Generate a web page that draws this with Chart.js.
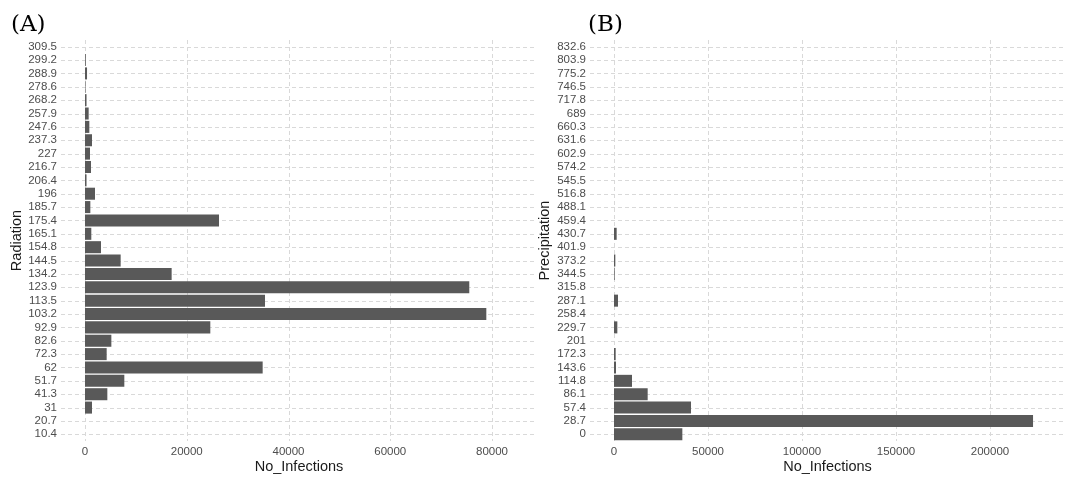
<!DOCTYPE html>
<html>
<head>
<meta charset="utf-8">
<script src="https://cdn.jsdelivr.net/npm/chart.js@4.4.1/dist/chart.umd.min.js"></script>
<style>
  html, body { margin: 0; padding: 0; background: #ffffff; }
  body { width: 1067px; height: 478px; position: relative; overflow: hidden; }
  .panel { position: absolute; top: 0; height: 478px; }
  .tag { position: absolute; top: 12px; font-family: "DejaVu Serif", serif; font-size: 23px; line-height: 1; color: #000; }
</style>
</head>
<body>
<div class="panel" style="left:0;width:540px;"><canvas id="chartA"></canvas></div>
<div class="panel" style="left:528px;width:539px;"><canvas id="chartB"></canvas></div>
<div class="tag" style="left:11px;">(A)</div>
<div class="tag" style="left:588px;">(B)</div>
<script>
// ---- data ----
const radiationCategories = ["10.4","20.7","31","41.3","51.7","62","72.3","82.6","92.9","103.2","113.5","123.9","134.2","144.5","154.8","165.1","175.4","185.7","196","206.4","216.7","227","237.3","247.6","257.9","268.2","278.6","288.9","299.2","309.5"];
const radiationInfections = [0,0,1380,4390,7730,34920,4260,5180,24630,78880,35380,75530,17030,7010,3140,1240,26340,1050,1970,300,1180,980,1380,850,720,300,100,400,150,0];
const radiationTicks = [0,20000,40000,60000,80000];

const precipitationCategories = ["0","28.7","57.4","86.1","114.8","143.6","172.3","201","229.7","258.4","287.1","315.8","344.5","373.2","401.9","430.7","459.4","488.1","516.8","545.5","574.2","602.9","631.6","660.3","689","717.8","746.5","775.2","803.9","832.6"];
const precipitationInfections = [36350,222900,40960,17910,9570,1060,890,0,1770,0,2130,0,350,700,0,1420,0,0,0,0,0,0,0,0,0,0,0,0,0,0];
const precipitationTicks = [0,50000,100000,150000,200000];

const xTitle = "No_Infections";

// ---- styling ----
const FONT = "'Liberation Sans', Arial, sans-serif";
const gridColor = "#d9d9d9";
const barColor = "#595959";

// dashed grid lines drawn at the library's own tick positions
const dashedGrid = {
  id: 'dashedGrid',
  beforeDatasetsDraw(chart) {
    const {ctx, chartArea: a, scales: {x, y}} = chart;
    ctx.save();
    ctx.strokeStyle = gridColor;
    ctx.lineWidth = 1;
    ctx.setLineDash([4, 3]);
    x.ticks.forEach((t, i) => {
      const px = Math.round(x.getPixelForTick(i)) + 0.5;
      ctx.beginPath(); ctx.moveTo(px, a.top); ctx.lineTo(px, a.bottom); ctx.stroke();
    });
    y.ticks.forEach((t, i) => {
      const py = Math.round(y.getPixelForTick(i)) + 0.5;
      ctx.beginPath(); ctx.moveTo(a.left, py); ctx.lineTo(a.right, py); ctx.stroke();
    });
    ctx.restore();
  }
};

function makeChart(id, cats, vals, ticks, yTitle, xMin, xMax, yAxisWidth, padRight) {
  return new Chart(document.getElementById(id), {
    type: 'bar',
    data: {
      labels: cats,
      datasets: [{
        data: vals,
        backgroundColor: barColor,
        borderWidth: 0,
        categoryPercentage: 1.0,
        barPercentage: 0.9
      }]
    },
    options: {
      indexAxis: 'y',
      responsive: true,
      maintainAspectRatio: false,
      animation: false,
      devicePixelRatio: 1,
      layout: { padding: { top: 40, right: padRight, bottom: 1, left: 0 } },
      plugins: { legend: { display: false }, tooltip: { enabled: false }, title: { display: false } },
      scales: {
        x: {
          type: 'linear',
          min: xMin,
          max: xMax,
          afterBuildTicks: (s) => { s.ticks = ticks.map(v => ({ value: v })); },
          afterFit: (s) => { s.height = 36; },
          border: { display: false },
          grid: { display: false, drawTicks: false },
          ticks: {
            color: '#4d4d4d',
            font: { family: FONT, size: 11.5 },
            padding: 4,
            maxRotation: 0,
            callback: (v) => String(v)
          },
          title: {
            display: true,
            text: xTitle,
            color: '#1a1a1a',
            font: { family: FONT, size: 14.5 },
            padding: { top: 0, bottom: 1 }
          }
        },
        y: {
          type: 'category',
          reverse: true,
          offset: true,
          afterFit: (s) => { s.width = yAxisWidth; },
          border: { display: false },
          grid: { display: false, drawTicks: false, offset: false },
          ticks: {
            color: '#4d4d4d',
            font: { family: FONT, size: 11.5 },
            padding: 4,
            autoSkip: false
          },
          title: {
            display: true,
            text: yTitle,
            color: '#1a1a1a',
            font: { family: FONT, size: 14.5 },
            padding: { top: 8, bottom: 0 }
          }
        }
      }
    },
    plugins: [dashedGrid]
  });
}

makeChart('chartA', radiationCategories, radiationInfections, radiationTicks, 'Radiation', -4717, 88840, 61, 3);
makeChart('chartB', precipitationCategories, precipitationInfections, precipitationTicks, 'Precipitation', -12770, 239900, 62, 2);
</script>
</body>
</html>
